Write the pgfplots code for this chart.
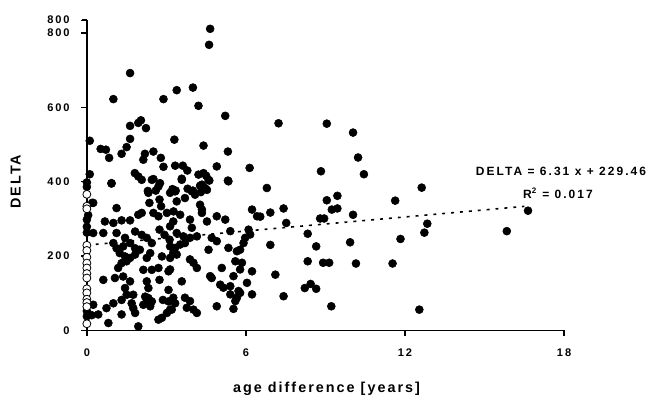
\documentclass[border=0pt]{standalone}
\usepackage{fontspec}
\setmainfont{Liberation Sans}[LetterSpace=17]
\newfontfamily\labfont{Liberation Sans}[LetterSpace=14]
\usepackage{pgfplots}
\pgfplotsset{compat=1.18}
\begin{document}
\begin{tikzpicture}
\path (-65.25pt,-50.25pt) rectangle (419.25pt,248.25pt);
\begin{axis}[
  at={(0pt,0pt)}, anchor=south west,
  scale only axis, width=358.5pt, height=233.3pt,
  xmin=0, xmax=18, ymin=0, ymax=835,
  axis lines=left,
  axis line style={black, line width=1.3pt, -},
  xtick={0,6,12,18}, ytick={0,200,400,600,800},
  extra y ticks={835}, extra y tick labels={800},
  tick align=outside, major tick length=3.5pt,
  every tick/.style={black, line width=1pt},
  /pgf/number format/assume math mode=true,
  ticklabel style={font=\fontsize{8.3}{10}\selectfont\bfseries},
  yticklabel style={xshift=-6pt},
  xticklabel style={yshift=-7pt},
  clip=false,
]
\fill[black] (axis cs:-0.033,-2.33) rectangle (axis cs:0.033,835);
\fill[black] (axis cs:-0.033,-2.33) rectangle (axis cs:18.033,2.33);
\fill[black] (axis cs:-0.209,-1.8) rectangle (axis cs:0,1.8);
\fill[black] (axis cs:-0.209,198.2) rectangle (axis cs:0,201.8);
\fill[black] (axis cs:-0.209,398.2) rectangle (axis cs:0,401.8);
\fill[black] (axis cs:-0.209,598.2) rectangle (axis cs:0,601.8);
\fill[black] (axis cs:-0.209,798.2) rectangle (axis cs:0,801.8);
\fill[black] (axis cs:-0.209,831.4) rectangle (axis cs:0,835);
\fill[black] (axis cs:-0.025,-14.8) rectangle (axis cs:0.025,0);
\fill[black] (axis cs:5.975,-14.8) rectangle (axis cs:6.025,0);
\fill[black] (axis cs:11.975,-14.8) rectangle (axis cs:12.025,0);
\fill[black] (axis cs:17.975,-14.8) rectangle (axis cs:18.025,0);
\addplot[only marks, mark=*, mark size=3pt, black] coordinates {
(4.65,811)(4.61,768)(1.63,692)(1.0,622)(2.89,622)(3.39,646)(4.0,653)(4.21,604)(5.22,577)(7.23,557)(9.05,556)(10.04,532)(10.23,465)(10.45,420)(8.83,428)
(0.11,510)(0.11,420)(0.52,488)(0.72,486)(0.84,464)(0.93,396)(1.31,475)(1.5,493)(1.63,515)(1.63,550)(1.94,558)(2.04,565)(2.23,544)
(2.19,475)(2.13,459)(2.51,481)(2.79,464)(2.89,440)(3.33,443)(3.3,513)(3.62,443)(3.79,430)(3.58,408)
(1.81,423)(1.94,414)(2.07,405)(2.51,407)(2.76,396)
(4.4,497)(5.32,481)(4.9,441)(6.14,437)(4.21,419)(4.4,423)(4.5,416)(4.62,403)(5.32,403)(4.27,389)(4.46,383)(6.79,383)
(2.6,376)(2.3,375)(3.23,380)(3.35,376)(3.8,381)(4.0,376)(4.3,372)
(12.63,384)(11.63,349)(9.05,350)(9.45,362)(7.42,328)(6.92,317)(9.24,325)(9.45,328)(8.8,301)(8.95,301)(10.04,311)(12.84,287)(7.52,289)(6.54,306)(8.33,260)(12.73,263)(6.92,230)(8.65,226)(9.93,237)(11.83,246)(8.33,186)(8.91,182)(9.14,182)(10.15,180)(11.53,180)(7.11,150)(8.22,114)(8.44,125)(8.65,112)(7.42,92)(9.22,65)(12.54,56)(16.64,322)(15.84,267)
(3.58,405)(4.34,392)(4.53,378)(4.59,405)(5.34,401)(3.33,374)(3.96,374)(4.08,365)(3.39,347)(3.7,356)(4.27,338)(4.34,325)(4.34,316)(3.52,311)(3.26,293)(3.89,298)(4.53,293)(4.9,307)(5.22,298)(3.14,280)(3.39,262)(3.96,276)(3.64,253)(3.89,249)(3.7,235)(3.52,231)(3.33,222)(4.15,253)(4.71,249)(4.9,240)(5.41,267)(6.1,271)(6.16,258)(5.97,249)(5.91,235)(6.23,325)(6.42,307)
(3.14,226)(3.26,209)(3.39,204)(3.14,195)(4.59,217)(5.34,222)(5.66,213)(5.78,217)(3.89,191)(4.02,182)(4.15,168)(5.09,168)(5.6,186)(5.85,182)(5.78,164)(6.23,159)(5.53,146)(4.65,146)(4.71,141)(3.58,132)(3.14,164)(5.03,123)(5.15,115)(5.41,119)(5.72,106)(6.04,128)(5.41,97)(5.66,88)(5.78,101)(6.23,97)(5.6,79)(3.26,88)(3.7,88)(3.89,79)(3.77,61)(4.02,56)(4.15,47)(4.9,65)(5.53,58)(3.14,56)
(0.93,395)(2.45,405)(3.14,370)(2.32,370)(2.7,387)(0.24,343)(1.12,329)(2.36,343)(2.74,352)(2.8,334)(2.07,316)(1.94,311)(2.51,316)(2.7,307)(3.02,316)(3.27,320)(0.68,293)(1.0,289)(1.31,296)(1.63,296)(0.24,262)(0.62,262)(1.12,262)(1.44,249)(1.82,266)(2.07,257)(2.26,249)(2.45,235)(2.74,271)(2.93,257)(3.12,244)(1.0,235)(1.12,221)(1.37,226)(1.63,235)(1.82,221)(2.0,217)(1.24,208)(1.44,199)(1.63,195)(1.82,204)(1.5,186)(1.31,181)(1.18,168)(2.26,195)(2.39,208)(2.83,199)(2.13,163)(2.45,163)(2.7,168)(3.08,159)(0.62,136)(1.06,141)(1.37,145)(1.63,132)(1.44,114)(1.5,96)(1.75,96)(2.26,132)(2.32,114)(2.74,136)(3.08,109)(2.2,91)(2.32,87)(2.26,78)(2.13,69)(2.45,78)(2.39,65)(2.87,82)(3.08,78)(3.33,73)(3.2,56)(3.02,47)(2.83,34)(2.7,29)(0.24,69)(0.74,60)(1.0,73)(1.31,82)(1.69,73)(1.75,60)(0.43,43)(0.81,20)(1.31,43)(1.82,47)(1.94,11)(0.18,41)
(0,398)(0,386)(0,298)(0,279)(0,263)(0,52)(0,38)(0.2,343)(0.05,310)
};
\addplot[only marks, mark=*, mark size=3pt, mark options={fill=white, draw=black, line width=0.6pt}] coordinates {
(0,366)(0,334)(0,327)(0,229)(0,215)(0,197)(0,181)(0,168)(0,153)(0,141)(0,112)(0,101)(0,84)(0,75)(0,64)(0,18)
};
\addplot[black, line width=1.2pt, dash pattern=on 2.2pt off 4.5pt] coordinates {(0,229.46)(16.5,333.6)};
\node[anchor=east, font=\fontsize{9}{10}\selectfont\bfseries, inner sep=0pt] at (axis cs:21.1,427) {DELTA = 6.31 x + 229.46};
\node[font=\fontsize{9}{10}\selectfont\bfseries, inner sep=0pt] at (axis cs:17.77,370) {R\textsuperscript{2} = 0.017};
\node[font=\labfont\fontsize{10.8}{12}\selectfont\bfseries, inner sep=0pt] at (axis cs:9.04,-158) {age difference [years]};
\node[font=\labfont\fontsize{10.8}{12}\selectfont\bfseries, inner sep=0pt, rotate=90] at (axis cs:-2.68,400) {DELTA};
\end{axis}
\end{tikzpicture}
\end{document}
